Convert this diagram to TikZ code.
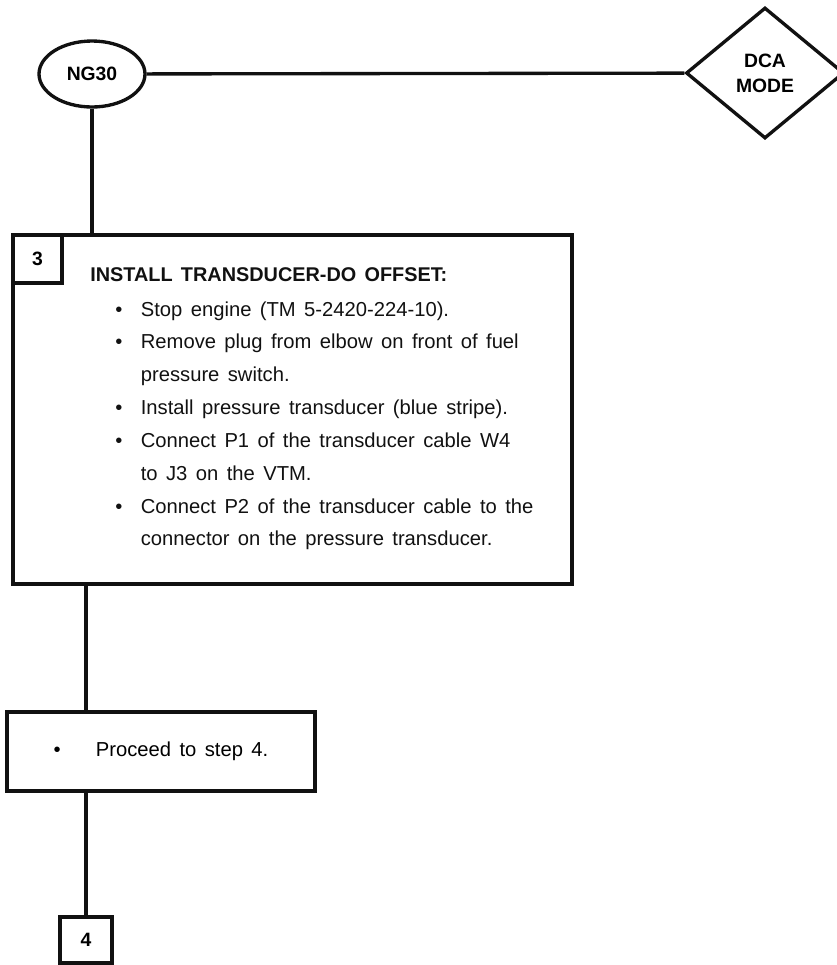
\documentclass[tikz,border=0pt]{standalone}
\usepackage{fontspec}
\setmainfont{Liberation Sans}[WordSpace=1.5]
\usetikzlibrary{positioning,shapes.geometric}
\definecolor{InkBlack}{RGB}{17,17,17}
\tikzset{
  link/.style={line width=1.9pt,draw=InkBlack},
  entrynode/.style={ellipse,draw=InkBlack,line width=1.9pt,inner sep=0pt,
    minimum width=2.12cm,minimum height=1.32cm,font=\fontsize{11}{13}\selectfont\bfseries},
  decision/.style={diamond,draw=InkBlack,line width=1.9pt,inner sep=0pt,
    minimum width=3.16cm,minimum height=2.62cm,align=center,font=\fontsize{11}{14.2}\selectfont\bfseries},
  stepbox/.style={draw=InkBlack,line width=1.9pt,inner sep=0pt,font=\fontsize{11.5}{14}\selectfont},
  tagbox/.style={draw=InkBlack,line width=1.9pt,inner sep=0pt,
    minimum width=0.98cm,minimum height=0.96cm,font=\fontsize{11}{13}\selectfont\bfseries},
  steptext/.style={inner sep=0pt,text=InkBlack,font=\fontsize{11.5}{18.7}\selectfont}
}
\begin{document}
\begin{tikzpicture}[x=0.02cm,y=-0.02cm]
  \useasboundingbox (0,0) rectangle (837,965);
  % entry and mode check
  \node[entrynode] (ng30) at (92,74) {NG30};
  \node[decision] (dcamode) at (765,73) {DCA\\MODE};
  % step 3
  \node[stepbox,minimum width=11.18cm,minimum height=6.98cm] (stepthree) at (292.5,409.5) {};
  \node[tagbox,anchor=north west] (tagthree) at (stepthree.north west) {3};
  \node[steptext,font=\fontsize{11.3}{13}\selectfont\bfseries,anchor=base west] (stepthreetitle) at (90,281)
    {INSTALL TRANSDUCER-DO OFFSET:};
  \node[steptext,anchor=base west] (stepthreelist) at (115,316) {%
    \begin{tabular}[t]{@{}l@{\hspace{10.5pt}}l@{}}
      \textbullet & Stop engine (TM 5-2420-224-10).\\
      \textbullet & Remove plug from elbow on front of fuel\\
                  & pressure switch.\\
      \textbullet & Install pressure transducer (blue stripe).\\
      \textbullet & Connect P1 of the transducer cable W4\\
                  & to J3 on the VTM.\\
      \textbullet & Connect P2 of the transducer cable to the\\
                  & connector on the pressure transducer.
    \end{tabular}};
  % proceed
  \node[stepbox,minimum width=6.16cm,minimum height=1.58cm] (proceed) at (161,751.5)
    {\textbullet\hspace{20pt}Proceed to step 4.};
  \node[tagbox,minimum width=1.04cm,minimum height=0.92cm] (stepfour) at (86,940) {4};
  \draw[link] (ng30) -- (dcamode);
  \draw[link] (ng30) -- (ng30 |- stepthree.north);
  \draw[link] (stepthree.south -| stepfour) -- (proceed.north -| stepfour);
  \draw[link] (proceed.south -| stepfour) -- (stepfour);
\end{tikzpicture}
\end{document}
